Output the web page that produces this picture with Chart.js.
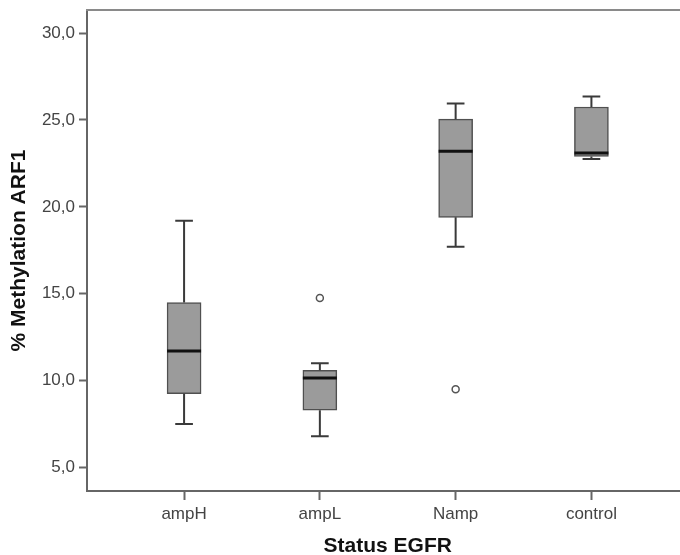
<!DOCTYPE html>
<html>
<head>
<meta charset="utf-8">
<script src="https://cdn.jsdelivr.net/npm/chart.js@4/dist/chart.umd.min.js"></script>
<style>
  html, body { margin: 0; padding: 0; background: #fff; overflow: hidden; }
  #wrap { width: 694px; height: 555px; }
</style>
</head>
<body>
<div id="wrap"><canvas id="boxChart"></canvas></div>
<script>
const groups = ['ampH', 'ampL', 'Namp', 'control'];
const whiskerLow = [7.5, 6.8, 17.7, 22.75];
const q1 = [9.25, 8.3, 19.4, 22.9];
const median = [11.7, 10.15, 23.2, 23.1];
const q3 = [14.5, 10.6, 25.05, 25.75];
const whiskerHigh = [19.2, 11.0, 25.95, 26.35];

const outlierGroups = ['ampL', 'Namp'];
const outlierValues = [14.75, 9.5];

const yTicks = [5, 10, 15, 20, 25, 30];

const TEXT_FONT = 'Liberation Sans, Arial, sans-serif';
const AXIS_COLOR = '#666';

// whiskers, caps and medians go on top of the floating bars
const boxParts = {
  id: 'boxParts',
  afterDatasetsDraw(chart) {
    const { ctx, scales } = chart;
    const y = scales.y;
    const meta = chart.getDatasetMeta(0);
    ctx.save();
    meta.data.forEach((bar, i) => {
      const cx = bar.x;
      const half = bar.width / 2;
      const capHalf = half * 0.52;
      const yLo = y.getPixelForValue(whiskerLow[i]);
      const yQ1 = y.getPixelForValue(q1[i]);
      const yQ3 = y.getPixelForValue(q3[i]);
      const yHi = y.getPixelForValue(whiskerHigh[i]);
      const yMed = y.getPixelForValue(median[i]);

      ctx.strokeStyle = '#3a3a3a';
      ctx.lineWidth = 2;
      ctx.beginPath();
      ctx.moveTo(cx, yQ1);
      ctx.lineTo(cx, yLo);
      ctx.moveTo(cx - capHalf, yLo);
      ctx.lineTo(cx + capHalf, yLo);
      ctx.moveTo(cx, yQ3);
      ctx.lineTo(cx, yHi);
      ctx.moveTo(cx - capHalf, yHi);
      ctx.lineTo(cx + capHalf, yHi);
      ctx.stroke();

      ctx.strokeStyle = '#111';
      ctx.lineWidth = 3;
      ctx.beginPath();
      ctx.moveTo(cx - half, yMed);
      ctx.lineTo(cx + half, yMed);
      ctx.stroke();
    });
    ctx.restore();
  },
};

// closing line along the top of the plot area
const topFrame = {
  id: 'topFrame',
  afterDraw(chart) {
    const { ctx, chartArea } = chart;
    ctx.save();
    ctx.strokeStyle = '#8a8a8a';
    ctx.lineWidth = 2;
    ctx.beginPath();
    ctx.moveTo(chartArea.left - 1, chartArea.top);
    ctx.lineTo(chartArea.right, chartArea.top);
    ctx.stroke();
    ctx.restore();
  },
};

const boxData = groups.map((g, i) => ({ x: i + 1, y: [q1[i], q3[i]] }));
const outlierData = outlierGroups.map((g, i) => ({ x: groups.indexOf(g) + 1, y: outlierValues[i] }));

new Chart(document.getElementById('boxChart'), {
  type: 'bar',
  data: {
    datasets: [
      {
        data: boxData,
        backgroundColor: '#9b9b9b',
        borderColor: '#505050',
        borderWidth: 1.5,
        borderSkipped: false,
        barThickness: 34,
      },
      {
        type: 'scatter',
        data: outlierData,
        pointStyle: 'circle',
        pointRadius: 3.5,
        borderColor: '#555',
        borderWidth: 1.5,
        backgroundColor: '#fff',
      },
    ],
  },
  options: {
    responsive: true,
    maintainAspectRatio: false,
    animation: false,
    layout: { padding: { left: 0, top: 10, right: 0, bottom: 0 } },
    plugins: {
      legend: { display: false },
      tooltip: { enabled: false },
    },
    scales: {
      x: {
        type: 'linear',
        offset: false,
        min: 0.285,
        max: 4.715,
        afterBuildTicks: (scale) => {
          scale.ticks = groups.map((g, i) => ({ value: i + 1 }));
        },
        afterFit: (scale) => {
          scale.height = 64;
          scale.paddingLeft = 0;
          scale.paddingRight = 0;
        },
        ticks: {
          autoSkip: false,
          maxRotation: 0,
          padding: 4,
          color: '#444',
          font: { family: TEXT_FONT, size: 17 },
          callback: (v) => groups[v - 1],
        },
        grid: {
          offset: false,
          drawOnChartArea: false,
          drawTicks: true,
          tickLength: 9,
          tickWidth: 2,
          tickColor: AXIS_COLOR,
        },
        border: { display: true, color: AXIS_COLOR, width: 2 },
        title: {
          display: true,
          text: 'Status EGFR',
          color: '#111',
          font: { family: TEXT_FONT, size: 21, weight: 'bold' },
          padding: { top: 0, bottom: -4 },
        },
      },
      y: {
        min: 3.65,
        max: 31.33,
        afterBuildTicks: (scale) => {
          scale.ticks = yTicks.map((v) => ({ value: v }));
        },
        afterFit: (scale) => {
          scale.width = 87;
          scale.paddingTop = 0;
          scale.paddingBottom = 0;
        },
        ticks: {
          padding: 4,
          color: '#444',
          font: { family: TEXT_FONT, size: 17 },
          callback: (v) => v.toFixed(1).replace('.', ','),
        },
        grid: {
          drawOnChartArea: false,
          drawTicks: true,
          tickLength: 8,
          tickWidth: 2,
          tickColor: AXIS_COLOR,
        },
        border: { display: true, color: AXIS_COLOR, width: 2 },
        title: {
          display: true,
          text: '% Methylation ARF1',
          color: '#111',
          font: { family: TEXT_FONT, size: 21, weight: 'bold' },
          padding: { top: 7, bottom: 0 },
        },
      },
    },
  },
  plugins: [boxParts, topFrame],
});
</script>
</body>
</html>
